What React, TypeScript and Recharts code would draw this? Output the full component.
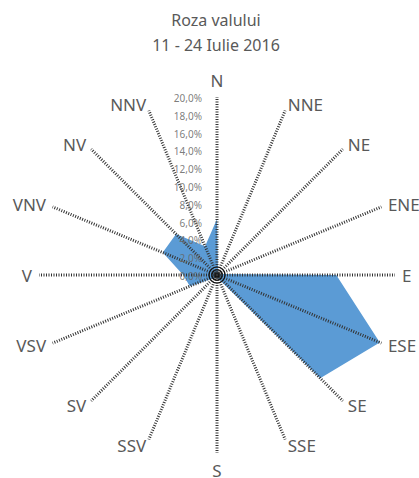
import { PolarAngleAxis, PolarGrid, PolarRadiusAxis, Radar, RadarChart } from "recharts";

const directions = ["N", "NNE", "NE", "ENE", "E", "ESE", "SE", "SSE", "S", "SSV", "SV", "VSV", "V", "VNV", "NV", "NNV"];
const frequency = [6.3, 0.3, 0.2, 0.3, 13.4, 19.8, 16.4, 0.5, 0.3, 0.3, 0.5, 3.3, 3.8, 6.6, 6.5, 3.5];
const radiusTicks = [0, 2, 4, 6, 8, 10, 12, 14, 16, 18, 20];

const data = directions.map((dir, i) => ({ dir, value: frequency[i] }));

const CX = 217;
const CY = 275;
const TEXT = "#595959";
const FONT = "'Noto Sans', sans-serif";

function AngleTick(props: any) {
  const { x, y, payload } = props;
  const dx = x - CX;
  const dy = y - CY;
  const len = Math.hypot(dx, dy) || 1;
  const ux = dx / len;
  const uy = dy / len;
  const anchor = Math.abs(ux) < 0.1 ? "middle" : ux > 0 ? "start" : "end";
  const r = anchor === "middle" ? 195 : 185;
  return (
    <text
      x={CX + ux * r}
      y={CY + uy * r}
      textAnchor={anchor}
      dominantBaseline="central"
      fill={TEXT}
      fontSize={17}
      fontFamily={FONT}
    >
      {payload.value}
    </text>
  );
}

function RadiusTick(props: any) {
  const { x, y, payload } = props;
  return (
    <text
      x={x - 15}
      y={y + 1}
      textAnchor="end"
      dominantBaseline="central"
      fill="#666"
      fillOpacity={0.85}
      fontSize={10}
      fontFamily={FONT}
    >
      {payload.value.toFixed(1).replace(".", ",")}%
    </text>
  );
}

export default function App() {
  document.body.style.margin = "0";
  return (
    <div style={{ width: 419, height: 478, position: "relative", background: "#fff", fontFamily: FONT }}>
      <div
        style={{
          position: "absolute",
          top: 8,
          left: 0,
          width: 432,
          textAlign: "center",
          color: TEXT,
          fontSize: 16,
          lineHeight: "25px",
        }}
      >
        Roza valului
        <br />
        11 - 24 Iulie 2016
      </div>
      <RadarChart width={419} height={478} data={data} cx={CX} cy={CY} outerRadius={178}>
        <Radar
          dataKey="value"
          fill="#5b9bd5"
          fillOpacity={1}
          stroke="none"
          isAnimationActive={false}
        />
        <PolarGrid
          gridType="circle"
          polarRadius={[]}
          stroke="#333"
          strokeWidth={3}
          strokeDasharray="1 1.5"
          zIndex={700}
        />
        <PolarGrid
          gridType="circle"
          radialLines={false}
          polarRadius={[2, 5, 8]}
          stroke="#111"
          strokeWidth={1.2}
          zIndex={700}
        />
        <PolarAngleAxis dataKey="dir" tick={<AngleTick />} tickLine={false} axisLine={false} />
        <PolarRadiusAxis
          angle={90}
          domain={[0, 20]}
          ticks={radiusTicks}
          tick={<RadiusTick />}
          axisLine={false}
          tickLine={false}
          zIndex={800}
        />
      </RadarChart>
    </div>
  );
}
